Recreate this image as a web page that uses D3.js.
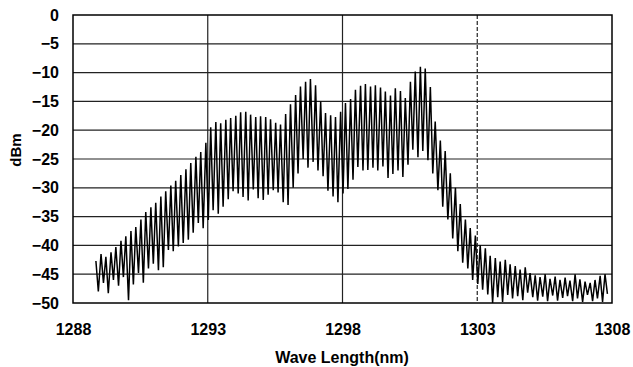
<!DOCTYPE html>
<html>
<head>
<meta charset="utf-8">
<script src="https://cdn.jsdelivr.net/npm/d3@7"></script>
<style>
  body { margin: 0; background: #fff; }
  text { font-family: "Liberation Sans", Arial, sans-serif; fill: #000; }
</style>
</head>
<body>
<div id="chart"></div>
<script>
// x ticks (nm) and y ticks (dBm)
var xTicks = [1288, 1293, 1298, 1303, 1308];
var yTicks = [0, -5, -10, -15, -20, -25, -30, -35, -40, -45, -50];

// spectrum samples: alternating fringe peak / fringe valley
var wavelength = [
  1288.85, 1288.94, 1289.04, 1289.13, 1289.22, 1289.31, 1289.41, 1289.50, 1289.59, 1289.69,
  1289.78, 1289.87, 1289.96, 1290.06, 1290.15, 1290.24, 1290.33, 1290.43, 1290.52, 1290.61,
  1290.70, 1290.80, 1290.89, 1290.98, 1291.07, 1291.17, 1291.26,
  1291.35, 1291.44, 1291.54, 1291.63, 1291.72, 1291.81, 1291.91, 1292.00, 1292.09, 1292.19,
  1292.28, 1292.37, 1292.46, 1292.56, 1292.65, 1292.74, 1292.83, 1292.93, 1293.02, 1293.11,
  1293.20, 1293.30, 1293.39, 1293.48, 1293.57, 1293.67, 1293.76,
  1293.85, 1293.94, 1294.04, 1294.13, 1294.22, 1294.31, 1294.41, 1294.50, 1294.59, 1294.69,
  1294.78, 1294.87, 1294.96, 1295.06, 1295.15, 1295.24, 1295.33, 1295.43, 1295.52, 1295.61,
  1295.70, 1295.80, 1295.89, 1295.98, 1296.07, 1296.17, 1296.26,
  1296.35, 1296.44, 1296.54, 1296.63, 1296.72, 1296.81, 1296.91, 1297.00, 1297.09, 1297.19,
  1297.28, 1297.37, 1297.46, 1297.56, 1297.65, 1297.74, 1297.83, 1297.93, 1298.02, 1298.11,
  1298.20, 1298.30, 1298.39, 1298.48, 1298.57, 1298.67, 1298.76,
  1298.85, 1298.94, 1299.04, 1299.13, 1299.22, 1299.31, 1299.41, 1299.50, 1299.59, 1299.69,
  1299.78, 1299.87, 1299.96, 1300.06, 1300.15, 1300.24, 1300.33, 1300.43, 1300.52, 1300.61,
  1300.70, 1300.80, 1300.89, 1300.98, 1301.07, 1301.17, 1301.26,
  1301.35, 1301.44, 1301.54, 1301.63, 1301.72, 1301.81, 1301.91, 1302.00, 1302.09, 1302.19,
  1302.28, 1302.37, 1302.46, 1302.56, 1302.65, 1302.74, 1302.83, 1302.93, 1303.02, 1303.11,
  1303.20, 1303.30, 1303.39, 1303.48, 1303.57, 1303.67, 1303.76,
  1303.85, 1303.94, 1304.04, 1304.13, 1304.22, 1304.31, 1304.41, 1304.50, 1304.59, 1304.69,
  1304.78, 1304.87, 1304.96, 1305.06, 1305.15, 1305.24, 1305.33, 1305.43, 1305.52, 1305.61,
  1305.70, 1305.80, 1305.89, 1305.98, 1306.07, 1306.17, 1306.26,
  1306.35, 1306.44, 1306.54, 1306.63, 1306.72, 1306.81, 1306.91, 1307.00, 1307.09, 1307.19,
  1307.28, 1307.37, 1307.46, 1307.56, 1307.65, 1307.74, 1307.83
];

var power = [
  -42.7, -48.0, -41.5, -46.5, -42.0, -48.3, -41.2, -46.0, -40.3, -47.0,
  -39.2, -45.5, -38.4, -49.5, -37.5, -46.8, -36.8, -44.8, -35.5, -46.5,
  -34.2, -44.0, -33.4, -43.2, -32.6, -44.3, -31.5, -43.8, -30.6, -40.8,
  -29.6, -41.0, -28.8, -40.2, -27.8, -39.6, -26.8, -39.0, -25.7, -37.8,
  -24.6, -36.1, -23.8, -37.0, -22.2, -35.6, -19.5, -33.9, -18.6, -34.5,
  -18.8, -33.3, -18.2, -32.0, -17.9, -30.6, -17.5, -31.0, -16.9, -31.6,
  -16.8, -32.2, -17.3, -30.3, -17.7, -31.8, -17.6, -32.1, -17.7, -31.2,
  -18.1, -30.4, -18.7, -30.8, -19.0, -32.5, -17.2, -33.0, -15.5, -30.0,
  -13.9, -27.5, -12.4, -25.0, -11.6, -26.5, -11.1, -25.5, -12.2, -27.0,
  -15.0, -28.0, -17.0, -30.5, -17.4, -31.5, -17.7, -32.5, -16.8, -31.0,
  -15.3, -30.2, -14.6, -28.6, -13.0, -26.4, -12.3, -27.0, -12.0, -26.9,
  -12.4, -26.5, -12.2, -27.0, -12.6, -26.3, -13.3, -28.3, -14.0, -27.6,
  -12.7, -27.0, -13.2, -28.1, -14.4, -26.0, -11.6, -23.4, -9.8, -24.7,
  -9.0, -23.6, -9.3, -25.2, -12.5, -27.5, -18.5, -30.4, -21.8, -33.3,
  -23.6, -35.5, -27.5, -38.8, -30.0, -41.0, -32.8, -43.0, -35.5, -44.0,
  -37.0, -46.0, -38.3, -46.7, -40.0, -47.7, -40.5, -48.5, -41.8, -50.0,
  -42.2, -49.0, -42.8, -49.8, -42.5, -48.6, -43.3, -49.2, -43.6, -48.8,
  -44.2, -49.5, -43.8, -48.2, -44.8, -49.0, -45.2, -49.6, -45.5, -48.9,
  -45.0, -49.7, -45.8, -48.7, -45.4, -49.6, -46.0, -49.1, -45.6, -48.8,
  -46.1, -49.7, -45.0, -49.2, -45.9, -49.8, -46.3, -48.6, -46.5, -49.7,
  -46.0, -49.2, -45.3, -49.8, -45.0, -48.4
];

var width = 633,
    height = 367,
    margin = { top: 15, right: 21, bottom: 64, left: 73 };

var svg = d3.select("#chart")
    .append("svg")
    .attr("width", width)
    .attr("height", height);

var x = d3.scaleLinear()
    .domain([1288, 1308])
    .range([margin.left, width - margin.right]);

var y = d3.scaleLinear()
    .domain([-50, 0])
    .range([height - margin.bottom, margin.top]);

// grid
svg.append("g")
    .selectAll("line")
    .data(yTicks.slice(1, -1))
    .enter()
    .append("line")
    .attr("x1", x(1288)).attr("x2", x(1308))
    .attr("y1", function (d) { return y(d); })
    .attr("y2", function (d) { return y(d); })
    .style("stroke", "#222")
    .style("stroke-width", 1.2);

svg.append("g")
    .selectAll("line")
    .data(xTicks.slice(1, -1))
    .enter()
    .append("line")
    .attr("y1", y(0)).attr("y2", y(-50))
    .attr("x1", function (d) { return x(d); })
    .attr("x2", function (d) { return x(d); })
    .style("stroke", "#222")
    .style("stroke-width", 1.2)
    .style("stroke-dasharray", function (d) { return d === 1303 ? "4,2" : null; });

// spectrum trace
var pts = wavelength.map(function (w, i) { return [w, power[i]]; });

var line = d3.line()
    .x(function (d) { return x(d[0]); })
    .y(function (d) { return y(d[1]); });

svg.append("path")
    .datum(pts)
    .attr("d", line)
    .style("fill", "none")
    .style("stroke", "#000")
    .style("stroke-width", 1.5)
    .style("stroke-linejoin", "miter");

// frame
svg.append("rect")
    .attr("x", x(1288)).attr("y", y(0))
    .attr("width", x(1308) - x(1288))
    .attr("height", y(-50) - y(0))
    .style("fill", "none")
    .style("stroke", "#000")
    .style("stroke-width", 1.5);

// axes
var minusFmt = function (d) { return d < 0 ? "\u2212" + Math.abs(d) : String(d); };

var yAxis = svg.append("g")
    .attr("transform", "translate(" + (margin.left - 11) + ",0)")
    .call(d3.axisLeft(y).tickValues(yTicks).tickSize(0).tickFormat(minusFmt));
yAxis.select(".domain").remove();

var xAxis = svg.append("g")
    .attr("transform", "translate(0," + (height - margin.bottom + 18) + ")")
    .call(d3.axisBottom(x).tickValues(xTicks).tickSize(0).tickFormat(d3.format("d")));
xAxis.select(".domain").remove();

svg.selectAll(".tick text")
    .style("font-family", "'Liberation Sans', Arial, sans-serif")
    .style("font-size", "16px")
    .style("font-weight", "bold")
    .style("fill", "#000");

svg.append("text")
    .attr("transform", "translate(21,150) rotate(-90)")
    .attr("text-anchor", "middle")
    .style("font-size", "15px")
    .style("font-weight", "bold")
    .text("dBm");

svg.append("text")
    .attr("x", 342)
    .attr("y", 363)
    .attr("text-anchor", "middle")
    .style("font-size", "16px")
    .style("font-weight", "bold")
    .text("Wave Length(nm)");
</script>
</body>
</html>
